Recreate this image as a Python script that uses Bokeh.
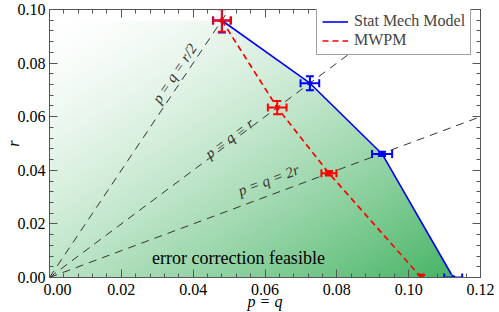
import numpy as np
from bokeh.plotting import figure
from bokeh.models import (Range1d, LinearAxis, SingleIntervalTicker,
                          PrintfTickFormatter, Legend, LegendItem,
                          CustomLabelingPolicy)
from bokeh.core.properties import value
from bokeh.embed import file_html
from bokeh.resources import INLINE

# ---------------- data ----------------
stat_p = [0.0480, 0.0725, 0.0926, 0.1124]
stat_r = [0.0959, 0.0725, 0.0461, 0.0000]
stat_ep = [0.0025, 0.0026, 0.0028, 0.0025]
stat_er = [0.0045, 0.0026, 0.0008, 0.0000]

mwpm_p = [0.0480, 0.0634, 0.0778, 0.1035]
mwpm_r = [0.0959, 0.0634, 0.0389, 0.0000]
mwpm_ep = [0.0024, 0.0026, 0.0021, 0.0004]
mwpm_er = [0.0042, 0.0025, 0.0008, 0.0009]

line_ratios = [2.0, 1.0, 0.5]          # r / p
line_labels = ["p = q = r/2", "p = q = r", "p = q = 2r"]
label_p = [0.0348, 0.0501, 0.0610]
label_r = [0.0761, 0.0519, 0.0363]

region_label = ["error correction feasible"]
region_p = [0.0526]
region_r = [0.0074]

x_title = "p = q"
y_title = "r"

x_min, x_max = 0.0, 0.12
y_min, y_max = 0.0, 0.10
tick_step = 0.02

# ---------------- layout ----------------
W, H = 499, 312
BL, BR, BT, BB = 49, 19, 9, 33
FW, FH = W - BL - BR, H - BT - BB

p = figure(width=W, height=H, x_range=Range1d(x_min, x_max),
           y_range=Range1d(y_min, y_max), output_backend="svg",
           toolbar_location=None, min_border_left=BL, min_border_right=BR,
           min_border_top=BT, min_border_bottom=BB,
           x_axis_label=x_title, y_axis_label=y_title)
p.grid.visible = False
p.outline_line_color = "#555555"
p.background_fill_color = "white"
p.border_fill_color = "white"

FONT = "Liberation Serif"
ticker = SingleIntervalTicker(interval=tick_step, num_minor_ticks=5)


def style_axis(ax, labels=True):
    ax.ticker = ticker
    ax.axis_line_color = "#555555"
    ax.major_tick_line_color = "#555555"
    ax.minor_tick_line_color = "#555555"
    ax.major_tick_in = 8
    ax.major_tick_out = 0
    ax.minor_tick_in = 4
    ax.minor_tick_out = 0
    ax.formatter = PrintfTickFormatter(format="%.2f")
    ax.major_label_text_font = FONT
    ax.major_label_text_color = "black"
    if labels:
        ax.major_label_text_font_size = "16px"
        ax.major_label_standoff = 4
    else:
        ax.major_label_text_font_size = "0px"
        ax.major_label_standoff = 0
        ax.major_label_policy = CustomLabelingPolicy(
            code="for (const i of indices) { indices.unset(i) }\nreturn indices")
    ax.axis_label_text_font = FONT
    ax.axis_label_text_font_style = "italic"
    ax.axis_label_text_font_size = "16px"
    ax.axis_label_text_color = "black"


style_axis(p.xaxis[0])
style_axis(p.yaxis[0])
p.xaxis[0].major_label_standoff = 3
p.xaxis[0].axis_label_standoff = -8
p.yaxis[0].axis_label_standoff = -7
# the origin label on the p axis sits a little to the right, as in the source
p.xaxis[0].major_label_overrides = {0: "\u00a0\u00a0\u00a0\u00a00.00"}

top = LinearAxis()
right = LinearAxis()
style_axis(top, labels=False)
style_axis(right, labels=False)
p.add_layout(top, "above")
p.add_layout(right, "right")

sx = FW / (x_max - x_min)   # px per data unit
sy = FH / (y_max - y_min)

# ---------------- gradient fill of the feasible region ----------------
nx, ny = FW, FH
xs = x_min + (np.arange(nx) + 0.5) / nx * (x_max - x_min)
ys = y_min + (np.arange(ny) + 0.5) / ny * (y_max - y_min)
X, Y = np.meshgrid(xs, ys)
bound = np.interp(X, stat_p, stat_r, left=stat_r[0], right=-1.0)
inside = Y <= bound
t = np.clip((X / stat_p[-1] + 1.0 - Y / stat_r[0]) / 2.0, 0, 1) ** 1.45
g_end = np.array([70, 180, 100], dtype=float)
img = np.zeros((ny, nx), dtype=np.uint32)
view = img.view(dtype=np.uint8).reshape((ny, nx, 4))
for c in range(3):
    view[:, :, c] = np.round(255 + (g_end[c] - 255) * t).astype(np.uint8)
view[:, :, 3] = np.where(inside, 255, 0).astype(np.uint8)
p.image_rgba(image=[img], x=x_min, y=y_min, dw=x_max - x_min, dh=y_max - y_min)

# ---------------- guide lines p = q = k r ----------------
angles = []
for k in line_ratios:
    x_end = min(x_max, y_max / k)
    p.line([0.0, x_end], [0.0, k * x_end], line_color="#333333",
           line_width=1, line_dash="8 6")
    angles.append(float(np.arctan(k * sy / sx)))

p.text(x=label_p, y=label_r, text=line_labels, angle=angles,
       text_font=value(FONT), text_font_style="italic",
       text_font_size="15px", text_align="center", text_baseline="middle",
       text_color="#333333")

p.text(x=region_p, y=region_r, text=region_label, text_font=value(FONT),
       text_font_size="18px", text_align="center", text_baseline="middle",
       text_color="black")

# ---------------- series ----------------
blue_line = p.line(stat_p, stat_r, line_color="blue", line_width=1.6)
red_line = p.line(mwpm_p, mwpm_r, line_color="red", line_width=1.7,
                  line_dash="6 4")


def errbars(px, pr, ep, er, color):
    px, pr, ep, er = map(np.asarray, (px, pr, ep, er))
    p.segment(x0=px - ep, y0=pr, x1=px + ep, y1=pr, line_color=color,
              line_width=2)
    p.scatter(x=np.r_[px - ep, px + ep], y=np.r_[pr, pr], marker="dash",
              angle=np.pi / 2, size=8, line_color=color, line_width=2)
    m = er > 0
    p.segment(x0=px[m], y0=pr[m] - er[m], x1=px[m], y1=pr[m] + er[m],
              line_color=color, line_width=2)
    p.scatter(x=np.r_[px[m], px[m]], y=np.r_[pr[m] - er[m], pr[m] + er[m]],
              marker="dash", size=8, line_color=color, line_width=2)
    p.scatter(px, pr, size=4, color=color)


errbars(stat_p, stat_r, stat_ep, stat_er, "blue")
errbars(mwpm_p, mwpm_r, mwpm_ep, mwpm_er, "red")

legend = Legend(items=[LegendItem(label="Stat Mech Model", renderers=[blue_line]),
                       LegendItem(label="MWPM", renderers=[red_line])],
                location=(267, 222), padding=5, spacing=1,
                label_text_font=FONT, label_text_font_size="16px",
                glyph_width=26, glyph_height=17, label_height=17,
                label_standoff=6, border_line_color="#444444",
                border_line_width=1, background_fill_alpha=1.0)
p.add_layout(legend)

open("out.html", "w").write(file_html(p, INLINE))
